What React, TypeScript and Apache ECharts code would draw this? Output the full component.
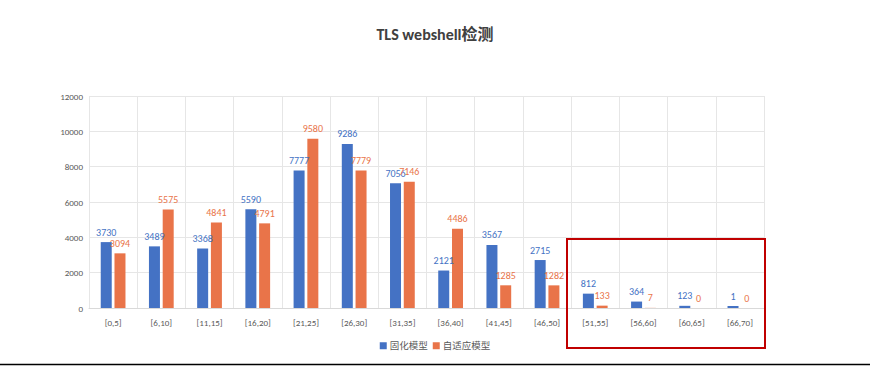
import React, { useEffect, useRef } from "react";
import * as echarts from "echarts";

const categories = ["[0,5]", "[6,10]", "[11,15]", "[16,20]", "[21,25]", "[26,30]", "[31,35]", "[36,40]", "[41,45]", "[46,50]", "[51,55]", "[56,60]", "[60,65]", "[66,70]"];
const fixedModel = [3730, 3489, 3368, 5590, 7777, 9286, 7056, 2121, 3567, 2715, 812, 364, 123, 1];
const adaptiveModel = [3094, 5575, 4841, 4791, 9580, 7779, 7146, 4486, 1285, 1282, 133, 7, 0, 0];
const seriesNames = ["固化模型", "自适应模型"];
const yTicks = { min: 0, max: 12000, interval: 2000 };

const FONT = 'Calibri, "Noto Sans", "Noto Sans CJK SC", sans-serif';
const BLUE = "#4472C4";
const ORANGE = "#E97449";

export default function App() {
  const ref = useRef<HTMLDivElement>(null);
  useEffect(() => {
    document.body.style.margin = "0";
    const chart = echarts.init(ref.current!, null, { renderer: "svg" });
    chart.setOption({
      animation: false,
      backgroundColor: "#ffffff",
      title: {
        text: "TLS webshell检测",
        left: "center",
        top: 21,
        textStyle: { fontFamily: FONT, fontSize: 16, fontWeight: "bold", color: "#404040" },
      },
      legend: {
        data: seriesNames,
        left: "center",
        top: 336,
        itemWidth: 7,
        itemHeight: 7,
        itemGap: 5,
        icon: "rect",
        textStyle: { fontFamily: FONT, fontSize: 9.5, color: "#595959", padding: [0, 0, 0, -2] },
      },
      grid: { left: 89, right: 106, top: 96, bottom: 58, containLabel: false },
      xAxis: {
        type: "category",
        data: categories,
        axisLine: { lineStyle: { color: "#d9d9d9" } },
        axisTick: { show: false },
        axisLabel: { fontFamily: FONT, fontSize: 9, color: "#595959", margin: 10, interval: 0 },
        splitLine: { show: true, interval: 0, lineStyle: { color: "#e6e6e6" } },
      },
      yAxis: {
        type: "value",
        min: yTicks.min,
        max: yTicks.max,
        interval: yTicks.interval,
        axisLine: { show: false },
        axisTick: { show: false },
        axisLabel: {
          fontFamily: FONT,
          fontSize: 9,
          color: "#595959",
          margin: 6,
          formatter: (v: number) => String(v),
        },
        splitLine: { lineStyle: { color: "#e6e6e6" } },
      },
      series: [
        {
          name: seriesNames[0],
          type: "bar",
          data: fixedModel,
          barWidth: 11,
          barGap: "25%",
          barMinHeight: 2,
          itemStyle: { color: BLUE },
          label: { show: true, position: "top", distance: 5, fontFamily: FONT, fontSize: 10, color: BLUE },
        },
        {
          name: seriesNames[1],
          type: "bar",
          data: adaptiveModel,
          barWidth: 11,
          barGap: "25%",
          itemStyle: { color: ORANGE },
          label: { show: true, position: "top", distance: 5, fontFamily: FONT, fontSize: 10, color: ORANGE },
        },
      ],
      graphic: [
        {
          type: "rect",
          shape: { x: 567, y: 239, width: 198, height: 109 },
          style: { fill: "none", stroke: "#C00000", lineWidth: 2 },
          z: 100,
        },
        {
          type: "line",
          shape: { x1: 0, y1: 364.5, x2: 870, y2: 364.5 },
          style: { stroke: "#000000", lineWidth: 1.5 },
          z: 100,
        },
      ],
    });
    return () => chart.dispose();
  }, []);
  return <div ref={ref} style={{ width: 870, height: 366 }} />;
}
